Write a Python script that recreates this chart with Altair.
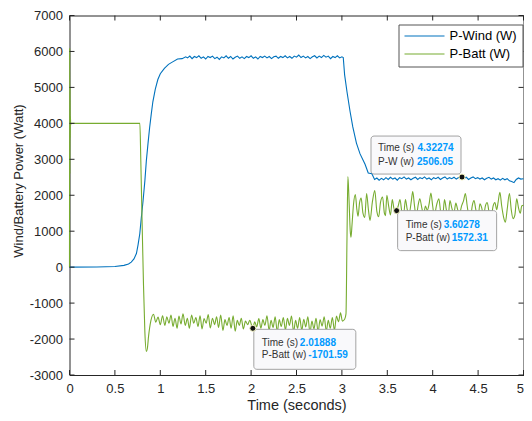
import altair as alt
import pandas as pd

# ---------------- data ----------------
x_ticks = [0, 0.5, 1, 1.5, 2, 2.5, 3, 3.5, 4, 4.5, 5]
y_ticks = [-3000, -2000, -1000, 0, 1000, 2000, 3000, 4000, 5000, 6000, 7000]

series_names = ["P-Wind (W)", "P-Batt (W)"]
series_colors = ["#0072BD", "#77AC30"]

wind_t = [0.0, 0.3, 0.5, 0.6, 0.65, 0.68, 0.71, 0.737, 0.755, 0.774, 0.79, 0.81, 0.83, 0.846,
          0.865, 0.882, 0.9, 0.918, 0.945, 0.973, 1.0, 1.045, 1.09, 1.136, 1.19, 1.24, 1.28,
          1.30, 1.325, 1.35, 1.375, 1.40, 1.425, 1.45, 1.475, 1.50, 1.525, 1.55, 1.575, 1.60,
          1.625, 1.65, 1.675, 1.70, 1.725, 1.75, 1.775, 1.80, 1.825, 1.85, 1.875, 1.90, 1.925,
          1.95, 1.975, 2.00, 2.025, 2.05, 2.075, 2.10, 2.125, 2.15, 2.175, 2.20, 2.225, 2.25,
          2.275, 2.30, 2.325, 2.35, 2.375, 2.40, 2.425, 2.45, 2.475, 2.50, 2.525, 2.55, 2.575,
          2.60, 2.625, 2.65, 2.675, 2.70, 2.725, 2.75, 2.775, 2.80, 2.825, 2.85, 2.875, 2.90,
          2.925, 2.95, 2.975, 3.00, 3.015, 3.03, 3.056, 3.09, 3.12, 3.16, 3.20, 3.255, 3.29,
          3.33, 3.36, 3.385, 3.41, 3.435, 3.46, 3.485, 3.51, 3.535, 3.56, 3.585, 3.61, 3.635,
          3.66, 3.685, 3.71, 3.735, 3.76, 3.785, 3.81, 3.835, 3.86, 3.885, 3.91, 3.935, 3.96,
          3.985, 4.01, 4.035, 4.06, 4.085, 4.11, 4.135, 4.16, 4.185, 4.21, 4.235, 4.26, 4.285,
          4.3227, 4.345, 4.37, 4.395, 4.42, 4.445, 4.47, 4.495, 4.52, 4.545, 4.57, 4.595, 4.62,
          4.645, 4.67, 4.695, 4.72, 4.745, 4.77, 4.795, 4.82, 4.845, 4.87, 4.895, 4.92, 4.945,
          4.97, 5.0]
wind_p = [0, 5, 20, 50, 90, 140, 230, 380, 620, 930, 1350, 1840, 2400, 2950,
          3450, 3870, 4250, 4600, 4950, 5220, 5380, 5530, 5640, 5710, 5790, 5800, 5850,
          5820, 5870, 5800, 5860, 5830, 5880, 5810, 5850, 5790, 5860, 5830, 5870, 5800,
          5840, 5780, 5850, 5820, 5880, 5810, 5860, 5790, 5840, 5870, 5810, 5850, 5800,
          5860, 5830, 5880, 5810, 5850, 5790, 5860, 5830, 5870, 5820, 5860, 5800, 5850,
          5870, 5810, 5860, 5830, 5880, 5820, 5860, 5810, 5870, 5840, 5900, 5830, 5870,
          5820, 5860, 5800, 5850, 5880, 5820, 5870, 5830, 5890, 5840, 5870, 5800, 5860,
          5830, 5880, 5820, 5850, 5830, 5350, 4880, 4330, 3900, 3450, 3150, 2860, 2620,
          2600, 2440, 2480, 2420, 2470, 2430, 2490, 2440, 2500, 2450, 2480, 2420, 2490,
          2460, 2510, 2450, 2480, 2430, 2470, 2500, 2440, 2490, 2460, 2510, 2450, 2480,
          2430, 2490, 2460, 2500, 2440, 2480, 2510, 2450, 2490, 2460, 2500, 2450, 2490,
          2506, 2470, 2500, 2440, 2480, 2510, 2460, 2490, 2450, 2480, 2430, 2470, 2500,
          2450, 2480, 2430, 2460, 2420, 2470, 2430, 2460, 2400, 2380, 2350, 2440, 2480,
          2450, 2460]

batt_t = [0.0, 0.002, 0.004, 0.006, 0.008, 0.010, 0.013, 0.016, 0.020, 0.775, 0.785, 0.800,
          0.815, 0.830, 0.846, 0.858, 0.870, 0.897, 0.925, 0.950, 0.975, 1.000, 1.025, 1.050,
          1.072, 1.095, 1.118, 1.140, 1.162, 1.185, 1.205, 1.228, 1.250, 1.275, 1.298, 1.320,
          1.345, 1.368, 1.392, 1.415, 1.438, 1.460, 1.482, 1.505, 1.528, 1.550, 1.575, 1.598,
          1.620, 1.642, 1.665, 1.690, 1.712, 1.735, 1.758, 1.780, 1.802, 1.825, 1.848, 1.870,
          1.892, 1.915, 1.938, 1.962, 1.985, 2.019, 2.040, 2.062, 2.085, 2.108, 2.130, 2.152,
          2.175, 2.198, 2.220, 2.242, 2.265, 2.288, 2.310, 2.332, 2.355, 2.378, 2.400, 2.422,
          2.445, 2.468, 2.490, 2.512, 2.535, 2.558, 2.580, 2.602, 2.625, 2.648, 2.670, 2.692,
          2.715, 2.738, 2.760, 2.782, 2.805, 2.828, 2.850, 2.872, 2.895, 2.918, 2.940, 2.962,
          2.985, 3.005, 3.030, 3.045, 3.056, 3.066, 3.078, 3.092, 3.100, 3.112, 3.128, 3.148,
          3.165, 3.178, 3.195, 3.212, 3.232, 3.252, 3.272, 3.292, 3.310, 3.335, 3.362, 3.385,
          3.405, 3.425, 3.448, 3.468, 3.480, 3.495, 3.515, 3.535, 3.555, 3.575, 3.600, 3.620,
          3.640, 3.660, 3.680, 3.700, 3.720, 3.742, 3.765, 3.780, 3.800, 3.818, 3.838, 3.858,
          3.880, 3.900, 3.920, 3.940, 3.960, 3.980, 4.000, 4.018, 4.040, 4.068, 4.090, 4.110,
          4.130, 4.150, 4.170, 4.190, 4.210, 4.232, 4.255, 4.275, 4.295, 4.320, 4.340, 4.360,
          4.380, 4.400, 4.415, 4.435, 4.455, 4.475, 4.500, 4.520, 4.540, 4.560, 4.580, 4.600,
          4.625, 4.645, 4.665, 4.685, 4.705, 4.720, 4.740, 4.760, 4.780, 4.800, 4.820, 4.845,
          4.865, 4.885, 4.905, 4.925, 4.945, 4.965, 4.980, 5.000]
batt_p = [0, 6100, 2600, 5000, 3600, 4200, 3950, 4010, 4000, 4000, 3000, 1200,
          -500, -1800, -2340, -2250, -1940, -1480, -1310, -1530, -1390, -1600, -1350, -1620,
          -1380, -1560, -1330, -1650, -1420, -1700, -1360, -1580, -1300, -1620, -1420, -1700,
          -1330, -1560, -1400, -1650, -1350, -1720, -1430, -1560, -1320, -1690, -1420, -1600,
          -1380, -1680, -1330, -1760, -1460, -1620, -1400, -1700, -1350, -1780, -1480, -1620,
          -1420, -1720, -1500, -1600, -1480, -1702, -1520, -1660, -1430, -1700, -1460, -1620,
          -1350, -1760, -1480, -1680, -1380, -1800, -1460, -1650, -1400, -1750, -1420, -1620,
          -1360, -1800, -1480, -1700, -1400, -1760, -1450, -1660, -1380, -1820, -1500, -1720,
          -1420, -1800, -1460, -1640, -1380, -1780, -1480, -1700, -1400, -1760, -1360, -1520,
          -1270, -1500, -1450, -1300, 800, 2520, 1900, 1000, 830, 1200, 1750, 2020,
          1600, 1420, 1800, 1920, 1500, 1380, 2050, 1600, 1300, 1800, 2130, 1550,
          1400, 1800, 1950, 1500, 1430, 2000, 1700, 1450, 1880, 1620, 1572, 1700,
          1880, 1550, 1480, 1880, 1600, 1500, 1850, 2100, 1700, 1380, 1700, 1900,
          1650, 1450, 1700, 1580, 1750, 2060, 1700, 1400, 1700, 1900, 1500, 1420,
          1880, 1600, 1400, 1850, 1650, 1480, 1780, 1600, 1500, 1720, 1850, 2050,
          1700, 1400, 1350, 1700, 1850, 1600, 1380, 1760, 1650, 1420, 1700, 1800,
          1480, 1420, 1700, 1800, 1600, 1800, 2080, 1700, 1400, 1250, 1600, 2050,
          1600, 1350, 1450, 1900, 1650, 1500, 1700, 1720]

tip_t = [4.32274, 3.60278, 2.01888]
tip_p = [2506.05, 1572.31, -1701.59]
tip_name = ["P-W (w)", "P-Batt (w)", "P-Batt (w)"]
tip_time_label = "Time (s)"

# ---------------- layout / style ----------------
W, H = 454, 359.5
FONT = "Liberation Sans"
AX = "#262626"

xscale = alt.Scale(domain=[0, 5], nice=False, zero=False)
yscale = alt.Scale(domain=[-3000, 7000], nice=False, zero=False)

X = alt.X("t:Q", scale=xscale, title="Time (seconds)",
          axis=alt.Axis(values=x_ticks, labelExpr="'' + datum.value", ticks=False, tickSize=0,
                        domain=False, grid=False, labelFont=FONT, labelFontSize=13,
                        labelColor=AX, labelPadding=7, labelFlush=False, labelOverlap=False,
                        labelAlign={"condition": {"test": "datum.value == 5", "value": "right"},
                                    "value": "center"},
                        titleFont=FONT, titleFontSize=14.5, titleFontWeight="normal",
                        titleColor=AX, titleY=34.5, titleBaseline="alphabetic"))
Y = alt.Y("p:Q", scale=yscale, title="Wind/Battery Power (Watt)",
          axis=alt.Axis(values=y_ticks, labelExpr="'' + datum.value", ticks=False, tickSize=0,
                        domain=False, grid=False, labelFont=FONT, labelFontSize=13,
                        labelColor=AX, labelPadding=7, labelFlush=False, labelOverlap=False,
                        titleFont=FONT, titleFontSize=13, titleFontWeight="normal",
                        titleColor=AX, titleX=-51.5, titleY=165, titleAngle=270,
                        titleAlign="center", titleBaseline="middle"))

color = alt.Color("series:N",
                  scale=alt.Scale(domain=series_names, range=series_colors),
                  legend=alt.Legend(title=None, orient="none", legendX=329, legendY=9,
                                    direction="vertical", symbolType="stroke",
                                    symbolSize=1600, symbolStrokeWidth=1.2, clipHeight=13,
                                    rowPadding=4, padding=5, labelFont=FONT,
                                    labelFontSize=13, labelColor="#000000", labelOffset=4,
                                    strokeColor="#555555", fillColor="#ffffff",
                                    labelLimit=300))

wind_df = pd.DataFrame({"t": wind_t, "p": wind_p, "series": series_names[0]})
batt_df = pd.DataFrame({"t": batt_t, "p": batt_p, "series": series_names[1]})

wind_line = alt.Chart(wind_df).mark_line(strokeWidth=1.1).encode(x=X, y=Y, color=color)
batt_line = alt.Chart(batt_df).mark_line(strokeWidth=1.1, interpolate="monotone").encode(
    x=X, y=Y, color=color)

# inward MATLAB-style ticks, drawn from the tick values through the scales
xt_df = pd.DataFrame({"t": x_ticks})
yt_df = pd.DataFrame({"p": y_ticks})
tick_style = dict(color=AX, strokeWidth=1)
ticks = [
    alt.Chart(xt_df).mark_rule(**tick_style).encode(x=X, y=alt.value(H), y2=alt.value(H - 5)),
    alt.Chart(xt_df).mark_rule(**tick_style).encode(x=X, y=alt.value(0), y2=alt.value(5)),
    alt.Chart(yt_df).mark_rule(**tick_style).encode(y=Y, x=alt.value(0), x2=alt.value(5)),
    alt.Chart(yt_df).mark_rule(**tick_style).encode(y=Y, x=alt.value(W), x2=alt.value(W - 5)),
]

# datatips
tip_layout = [
    dict(box=(-91, -1, -41, -3), tx=-84, v1x=-44.5, v2x=-45, ly1=-29, ly2=-15),
    dict(box=(1, 100, 0, 40), tx=9, v1x=47, v2x=55, ly1=14, ly2=27),
    dict(box=(1, 103, 1, 41), tx=9, v1x=47, v2x=55.5, ly1=15, ly2=27),
]
tips = []
for i in range(len(tip_t)):
    L = tip_layout[i]
    df = pd.DataFrame({"t": [tip_t[i]], "p": [tip_p[i]],
                       "l1": [tip_time_label], "v1": [f"{tip_t[i]:g}"],
                       "l2": [tip_name[i]], "v2": [f"{tip_p[i]:g}"]})
    base = alt.Chart(df)
    x0, x1, y0, y1 = L["box"]
    box = base.mark_rect(fill="#F9F9FB", stroke="#A3A3A3", strokeWidth=1, cornerRadius=3,
                         xOffset=x0, x2Offset=x1, yOffset=y0, y2Offset=y1).encode(
        x=X, x2=alt.X2("t"), y=Y, y2=alt.Y2("p"))
    txt = dict(font=FONT, fontSize=10, align="left", baseline="middle")
    l1 = base.mark_text(color="#333333", dx=L["tx"], dy=L["ly1"], **txt).encode(
        x=X, y=Y, text="l1:N")
    v1 = base.mark_text(color="#0099FF", fontWeight="bold", dx=L["v1x"], dy=L["ly1"], **txt).encode(
        x=X, y=Y, text="v1:N")
    l2 = base.mark_text(color="#333333", dx=L["tx"], dy=L["ly2"], **txt).encode(
        x=X, y=Y, text="l2:N")
    v2 = base.mark_text(color="#0099FF", fontWeight="bold", dx=L["v2x"], dy=L["ly2"], **txt).encode(
        x=X, y=Y, text="v2:N")
    dot = base.mark_point(shape="circle", filled=True, size=36, fill="#111111",
                          stroke="#F2F2C0", strokeWidth=1, opacity=1).encode(x=X, y=Y)
    tips += [box, l1, v1, l2, v2, dot]

chart = alt.layer(wind_line, batt_line, *ticks, *tips).properties(
    width=W, height=H,
    autosize=alt.AutoSizeParams(type="none"),
    padding={"left": 61.5, "top": 7.5, "right": 0.5, "bottom": 38},
    background="white",
).configure_view(stroke=AX, strokeWidth=1)

chart.save("out.html", embed_options={"renderer": "svg", "actions": False})
